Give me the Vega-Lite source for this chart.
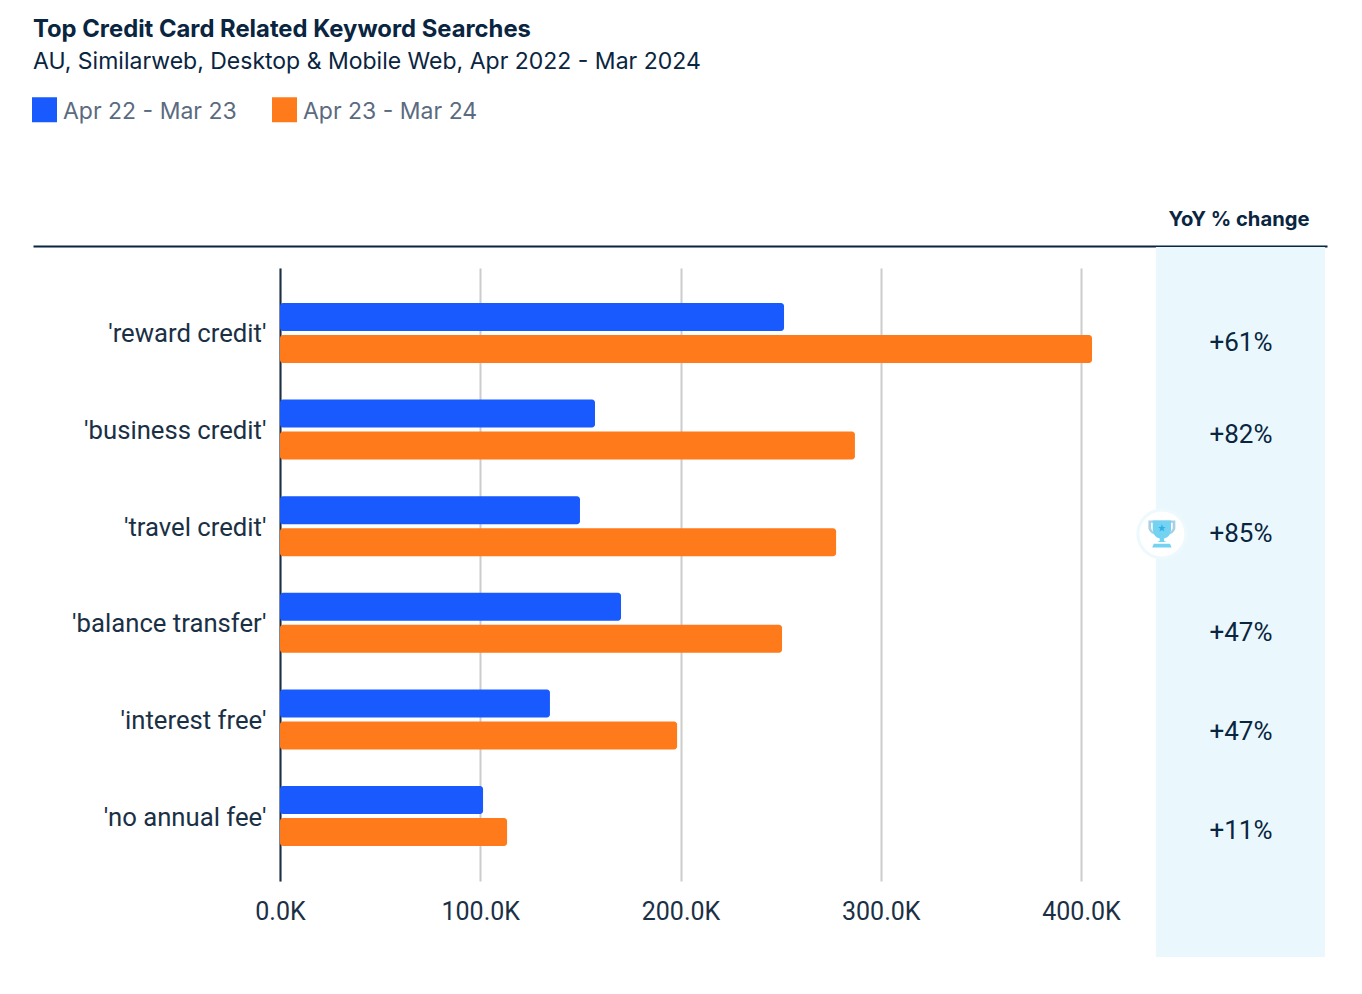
{
"$schema":"https://vega.github.io/schema/vega-lite/v6.json",
"autosize":{"type":"none"},
"padding":{"left":33,"top":268,"right":35,"bottom":113},
"width":1294,"height":613,
"background":"white",
"title":{"text":"Top Credit Card Related Keyword Searches","subtitle":"AU, Similarweb, Desktop & Mobile Web, Apr 2022 - Mar 2024","anchor":"start","frame":"group","offset":25,"font":"Inter","fontSize":23.8,"fontWeight":700,"color":"#092540","subtitleFont":"Inter","subtitleFontSize":23,"subtitleFontWeight":400,"subtitleColor":"#092540","subtitlePadding":9.5},
"datasets":{
"searches":[
{"keyword":"'reward credit'","period":"Apr 22 - Mar 23","searches":251.7},
{"keyword":"'reward credit'","period":"Apr 23 - Mar 24","searches":405.5},
{"keyword":"'business credit'","period":"Apr 22 - Mar 23","searches":157.3},
{"keyword":"'business credit'","period":"Apr 23 - Mar 24","searches":287.1},
{"keyword":"'travel credit'","period":"Apr 22 - Mar 23","searches":149.8},
{"keyword":"'travel credit'","period":"Apr 23 - Mar 24","searches":277.7},
{"keyword":"'balance transfer'","period":"Apr 22 - Mar 23","searches":170.3},
{"keyword":"'balance transfer'","period":"Apr 23 - Mar 24","searches":250.7},
{"keyword":"'interest free'","period":"Apr 22 - Mar 23","searches":134.8},
{"keyword":"'interest free'","period":"Apr 23 - Mar 24","searches":198.3},
{"keyword":"'no annual fee'","period":"Apr 22 - Mar 23","searches":101.4},
{"keyword":"'no annual fee'","period":"Apr 23 - Mar 24","searches":113.4}
],
"yoy":[
{"keyword":"'business credit'","yoy":"+82%"},
{"keyword":"'travel credit'","yoy":"+85%"},
{"keyword":"'balance transfer'","yoy":"+47%"},
{"keyword":"'interest free'","yoy":"+47%"},
{"keyword":"'no annual fee'","yoy":"+11%"}
],
"yoyTop":[{"keyword":"'reward credit'","yoy":"+61%"}],
"winner":[{"keyword":"'travel credit'","yoy":"+85%"}],
"pane":[{"label":"YoY % change"}]
},
"layer":[
{"data":{"name":"pane"},"mark":{"type":"rect","color":"#eaf8fd","clip":false},
"encoding":{
"x":{"datum":437.4,"type":"quantitative","scale":{"domain":[-123.35,522.85],"nice":false,"zero":false},"axis":{"orient":"top","offset":22,"values":[],"ticks":false,"labels":false,"grid":false,"domain":true,"domainColor":"#092540","domainWidth":2,"title":"YoY % change","titleFont":"Inter","titleFontSize":20.2,"titleFontWeight":700,"titleColor":"#092540","titleAnchor":"end","titleAlign":"right","titleBaseline":"middle","titleX":1276,"titleY":-27}},
"x2":{"datum":521.8},
"y":{"datum":-21,"type":"quantitative","scale":{"domain":[0,613],"reverse":true,"nice":false,"zero":false},"axis":null},
"y2":{"datum":689}
}},
{"data":{"name":"searches"},"mark":{"type":"bar","cornerRadiusEnd":3},
"encoding":{
"x":{"field":"searches","type":"quantitative","scale":{"domain":[-123.35,522.85],"nice":false,"zero":false},"axis":{"orient":"bottom","values":[0,100,200,300,400],"labelExpr":"format(datum.value,'.1f')+'K'","title":null,"ticks":false,"domain":false,"grid":true,"gridColor":"#cccccc","gridWidth":2,"labelFont":"Roboto","labelFontSize":25,"labelColor":"#1b3045","labelPadding":18}},
"x2":{"datum":0},
"y":{"field":"keyword","type":"nominal","sort":null,"scale":{"paddingInner":0.379,"paddingOuter":0.362},"axis":{"orient":"left","offset":-247,"title":null,"ticks":false,"domain":true,"domainColor":"#1b3045","domainWidth":2,"labelFont":"Roboto","labelFontSize":25.7,"labelColor":"#1b3045","labelPadding":14,"labelOffset":1.5,"labelLimit":300,"grid":false,"zindex":0}},
"yOffset":{"field":"period","type":"nominal","sort":null,"scale":{"paddingInner":0.125,"paddingOuter":0}},
"color":{"field":"period","type":"nominal","sort":null,"scale":{"domain":["Apr 22 - Mar 23","Apr 23 - Mar 24"],"range":["#195afe","#ff7a1a"]},"legend":{"orient":"none","legendX":-1,"legendY":-169,"direction":"horizontal","columns":2,"title":null,"symbolType":"M-1,-1.16 L1,-1.16 L1,0.84 L-1,0.84 Z","symbolSize":625,"symbolStrokeWidth":0,"symbolOpacity":1,"labelFont":"Inter","labelFontSize":23,"labelColor":"#5b6b7f","labelOffset":6,"columnPadding":35,"labelLimit":300}}
}},
{"data":{"name":"yoy"},"mark":{"type":"text","font":"Roboto","fontSize":26,"color":"#092540","align":"center","baseline":"middle"},
"encoding":{
"x":{"datum":479.9,"type":"quantitative","scale":{"domain":[-123.35,522.85],"nice":false,"zero":false},"axis":null},
"y":{"field":"keyword","type":"nominal","sort":null,"scale":{"domain":["'reward credit'","'business credit'","'travel credit'","'balance transfer'","'interest free'","'no annual fee'"],"type":"point","padding":0.596,"align":0.576},"axis":null},
"text":{"field":"yoy"}
}},
{"data":{"name":"yoyTop"},"mark":{"type":"text","font":"Roboto","fontSize":26,"color":"#092540","align":"center","baseline":"middle","dy":7},
"encoding":{
"x":{"datum":479.9,"type":"quantitative","scale":{"domain":[-123.35,522.85],"nice":false,"zero":false},"axis":null},
"y":{"field":"keyword","type":"nominal","sort":null,"scale":{"domain":["'reward credit'","'business credit'","'travel credit'","'balance transfer'","'interest free'","'no annual fee'"],"type":"point","padding":0.596,"align":0.576},"axis":null},
"text":{"field":"yoy"}
}},
{"data":{"name":"winner"},"mark":{"type":"point","shape":"circle","filled":true,"fill":"white","stroke":"#eef9fd","strokeWidth":3,"size":2300,"opacity":1},
"encoding":{
"x":{"datum":440.4,"type":"quantitative","scale":{"domain":[-123.35,522.85],"nice":false,"zero":false},"axis":null},
"y":{"field":"keyword","type":"nominal","scale":{"domain":["'reward credit'","'business credit'","'travel credit'","'balance transfer'","'interest free'","'no annual fee'"],"type":"point","padding":0.596,"align":0.576},"axis":null,"sort":null}
}},
{"data":{"name":"winner"},"mark":{"type":"point","shape":"M-0.5,-0.5 L0.5,-0.5 L0.5,-0.2 Q0.45,0.02 0.15,0.05 L-0.15,0.05 Q-0.45,0.02 -0.5,-0.2 Z M-0.4,-0.42 L-0.4,-0.2 Q-0.36,-0.07 -0.25,-0.04 L0.25,-0.04 Q0.36,-0.07 0.4,-0.2 L0.4,-0.42 Z","filled":true,"fill":"#a9cfe4","size":2900,"opacity":1,"strokeWidth":0},
"encoding":{
"x":{"datum":440.4,"type":"quantitative","scale":{"domain":[-123.35,522.85],"nice":false,"zero":false},"axis":null},
"y":{"field":"keyword","type":"nominal","scale":{"domain":["'reward credit'","'business credit'","'travel credit'","'balance transfer'","'interest free'","'no annual fee'"],"type":"point","padding":0.596,"align":0.576},"axis":null,"sort":null}
}},
{"data":{"name":"winner"},"mark":{"type":"point","shape":"M-0.34,-0.5 L0.34,-0.5 L0.34,-0.15 Q0.3,0.12 0.08,0.17 L0.08,0.26 L0.18,0.3 L-0.18,0.3 L-0.08,0.26 L-0.08,0.17 Q-0.3,0.12 -0.34,-0.15 Z M-0.3,0.36 L0.3,0.36 L0.36,0.5 L-0.36,0.5 Z","filled":true,"fill":"#74d2f3","size":2900,"opacity":1,"strokeWidth":0},
"encoding":{
"x":{"datum":440.4,"type":"quantitative","scale":{"domain":[-123.35,522.85],"nice":false,"zero":false},"axis":null},
"y":{"field":"keyword","type":"nominal","scale":{"domain":["'reward credit'","'business credit'","'travel credit'","'balance transfer'","'interest free'","'no annual fee'"],"type":"point","padding":0.596,"align":0.576},"axis":null,"sort":null}
}},
{"data":{"name":"winner"},"mark":{"type":"point","shape":"M0,-0.36 L0.04,-0.26 L0.14,-0.26 L0.06,-0.19 L0.09,-0.09 L0,-0.15 L-0.09,-0.09 L-0.06,-0.19 L-0.14,-0.26 L-0.04,-0.26 Z","filled":true,"fill":"#2fb2e3","size":2900,"opacity":1,"strokeWidth":0},
"encoding":{
"x":{"datum":440.4,"type":"quantitative","scale":{"domain":[-123.35,522.85],"nice":false,"zero":false},"axis":null},
"y":{"field":"keyword","type":"nominal","scale":{"domain":["'reward credit'","'business credit'","'travel credit'","'balance transfer'","'interest free'","'no annual fee'"],"type":"point","padding":0.596,"align":0.576},"axis":null,"sort":null}
}}
],
"resolve":{"scale":{"y":"independent","yOffset":"independent"},"axis":{"x":"independent","y":"independent"}},
"config":{"view":{"stroke":null}}
}
